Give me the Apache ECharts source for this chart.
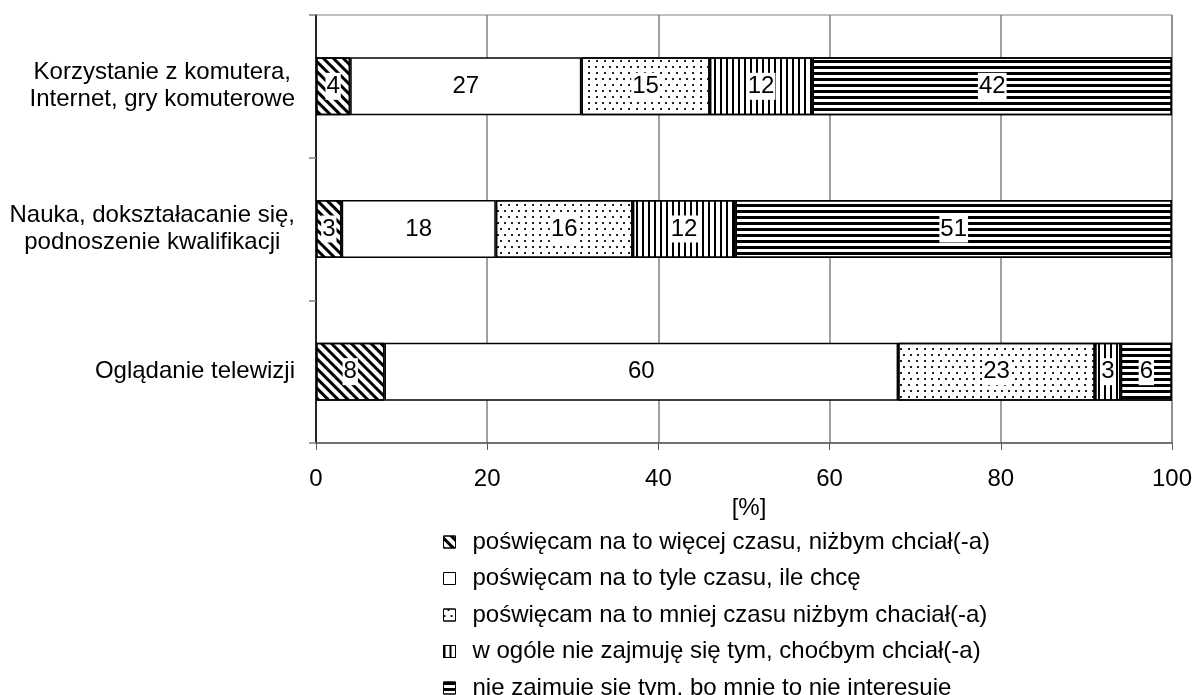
<!DOCTYPE html>
<html>
<head>
<meta charset="utf-8">
<script src="https://cdn.jsdelivr.net/npm/echarts@6/dist/echarts.min.js"></script>
<style>html,body{margin:0;padding:0;background:#fff}#c{width:1197px;height:695px}</style>
</head>
<body>
<div id="c"></div>
<script>
const categories = [
  "Korzystanie z komutera,\nInternet, gry komuterowe",
  "Nauka, dokształacanie się,\npodnoszenie kwalifikacji",
  "Oglądanie telewizji"
];
const seriesNames = [
  "poświęcam na to więcej czasu, niżbym chciał(-a)",
  "poświęcam na to tyle czasu, ile chcę",
  "poświęcam na to mniej czasu niżbym chaciał(-a)",
  "w ogóle nie zajmuję się tym, choćbym chciał(-a)",
  "nie zajmuję się tym, bo mnie to nie interesuje"
];
const more = [4, 3, 8];
const enough = [27, 18, 60];
const less = [15, 16, 23];
const notAtAllWish = [12, 12, 3];
const notInterested = [42, 51, 6];
const xTicks = [0, 20, 40, 60, 80, 100];

const FONT = 'Liberation Sans, Arial, sans-serif';
const decals = [
  {symbol: 'rect', color: '#000', dashArrayX: [1, 0], dashArrayY: [3, 4], rotation: Math.PI / 4, symbolSize: 1},
  null,
  {symbol: 'rect', color: '#222', dashArrayX: [[2, 5], [0, 3.5, 2, 1.5]], dashArrayY: [1.5, 3.5], symbolSize: 1},
  {symbol: 'rect', color: '#000', dashArrayX: [1.4, 3.4], dashArrayY: [1, 0], symbolSize: 1},
  {symbol: 'rect', color: '#000', dashArrayX: [1, 0], dashArrayY: [2.5, 3], symbolSize: 1}
];
const allData = [more, enough, less, notAtAllWish, notInterested];

const series = allData.map((d, i) => {
  const s = {
    name: seriesNames[i],
    type: 'bar',
    stack: 'total',
    barWidth: 58,
    data: d,
    itemStyle: {color: '#fff', borderColor: '#000', borderWidth: 1.5},
    label: {
      show: true, position: 'inside', color: '#000', fontSize: 24, fontFamily: FONT,
      backgroundColor: '#fff', padding: [2, 1, 1, 1]
    },
    emphasis: {disabled: true}
  };
  if (decals[i]) s.itemStyle.decal = decals[i];
  return s;
});

const chart = echarts.init(document.getElementById('c'), null, {renderer: 'canvas'});
chart.setOption({
  animation: false,
  backgroundColor: '#fff',
  grid: {left: 316, right: 25, top: 15, bottom: 252, show: true, borderColor: '#808080', borderWidth: 1},
  xAxis: {
    type: 'value', min: xTicks[0], max: xTicks[xTicks.length - 1], interval: 20,
    name: '[%]', nameLocation: 'middle', nameGap: 41,
    nameTextStyle: {color: '#000', fontSize: 24, fontFamily: FONT, padding: [0, 0, 0, 10]},
    axisLine: {show: true, lineStyle: {color: '#595959', width: 1.5}},
    axisTick: {show: true, length: 7, lineStyle: {color: '#595959'}},
    axisLabel: {color: '#000', fontSize: 24, fontFamily: FONT, margin: 24},
    splitLine: {show: true, lineStyle: {color: '#808080', width: 1.5}}
  },
  yAxis: {
    type: 'category', data: categories, inverse: true,
    axisLine: {show: true, lineStyle: {color: '#000', width: 1.5}},
    axisTick: {show: true, length: 7, lineStyle: {color: '#808080', width: 1.5}},
    axisLabel: {
      margin: 21,
      formatter: v => v.split('\n').map(l => '{a|' + l + '}').join('\n'),
      rich: {a: {color: '#000', fontSize: 24, fontFamily: FONT, align: 'center', lineHeight: 27}}
    },
    splitLine: {show: false}
  },
  legend: {
    orient: 'vertical', left: 443, top: 530, height: 220, padding: 0,
    icon: 'rect',
    itemWidth: 12, itemHeight: 12, itemGap: 12.5,
    textStyle: {color: '#000', fontSize: 24, fontFamily: FONT, padding: [0, 0, 0, 12]},
    itemStyle: {borderColor: '#000', borderWidth: 1},
    selectedMode: false,
    data: seriesNames
  },
  series: series
});
</script>
</body>
</html>
